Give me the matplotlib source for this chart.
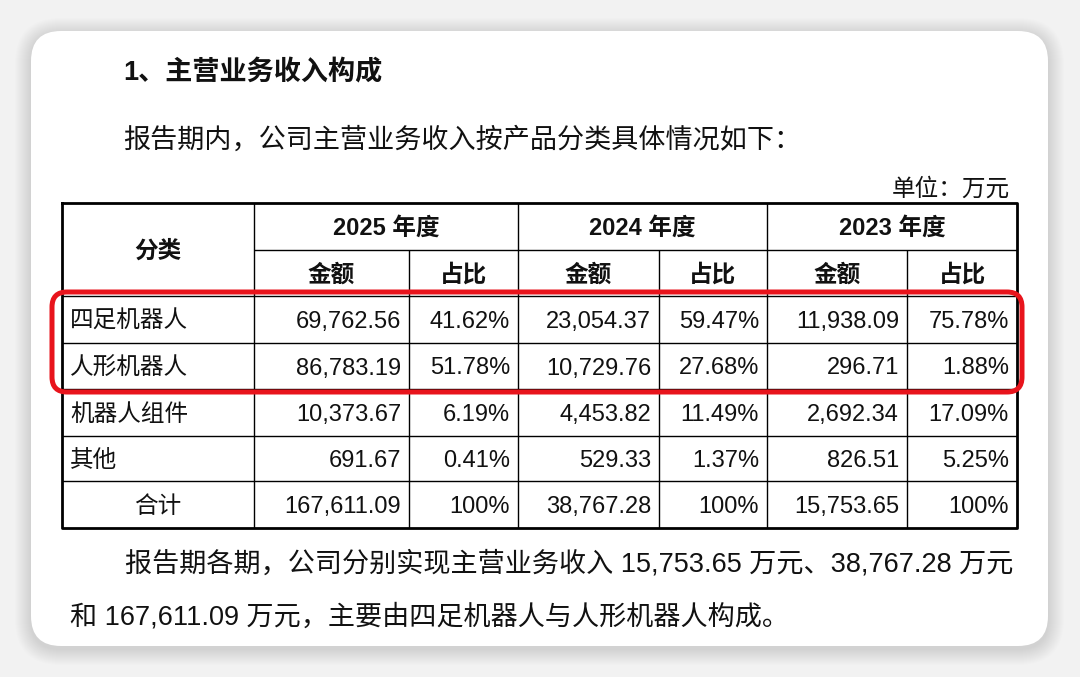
import numpy as np
import matplotlib.pyplot as plt
from matplotlib.patches import FancyBboxPatch

plt.rcParams['font.family'] = ['Liberation Sans', 'Noto Sans CJK SC', 'DejaVu Sans']

# ---- data ----
years = ['2025 年度', '2024 年度', '2023 年度']
sub_headers = ['金额', '占比']
categories = ['四足机器人', '人形机器人', '机器人组件', '其他', '合计']
amount_2025 = [69762.56, 86783.19, 10373.67, 691.67, 167611.09]
share_2025 = [41.62, 51.78, 6.19, 0.41, 100]
amount_2024 = [23054.37, 10729.76, 4453.82, 529.33, 38767.28]
share_2024 = [59.47, 27.68, 11.49, 1.37, 100]
amount_2023 = [11938.09, 296.71, 2692.34, 826.51, 15753.65]
share_2023 = [75.78, 1.88, 17.09, 5.25, 100]
highlight_rows = [0, 1]   # rows in the red box

title = '1、主营业务收入构成'
intro = '报告期内，公司主营业务收入按产品分类具体情况如下：'
unit = '单位：万元'


def fmt_amt(v):
    return f'{v:,.2f}'


def fmt_share(v):
    return '100%' if v == 100 else f'{v:.2f}%'


summary_1 = ('报告期各期，公司分别实现主营业务收入 ' + fmt_amt(amount_2023[-1]) + ' 万元、'
             + fmt_amt(amount_2024[-1]) + ' 万元')
summary_2 = '和 ' + fmt_amt(amount_2025[-1]) + ' 万元，主要由四足机器人与人形机器人构成。'

# ---- layout (pixels) ----
col_x = [62, 254, 409, 518, 659, 767, 907, 1017]
row_y = [203, 250, 296, 343, 389, 436, 481, 528]
pad = 8
fs_table = 17
fs_body = 19.5
ink = '#111111'

fig = plt.figure(figsize=(10.8, 6.77), dpi=100)
fig.patch.set_facecolor('#f2f2f2')
ax = fig.add_axes([0, 0, 1, 1])
ax.set_xlim(0, 1080)
ax.set_ylim(677, 0)
ax.axis('off')

# card with soft shadow
cx0, cy0, cx1, cy1 = 31, 31, 1048, 646
for i in range(16, 0, -1):
    ax.add_patch(FancyBboxPatch((cx0 - i, cy0 - i + 3), cx1 - cx0 + 2 * i, cy1 - cy0 + 2 * i,
                                boxstyle=f'round,pad=0,rounding_size={30 + i}',
                                fc='black', ec='none', alpha=0.007, zorder=1))
ax.add_patch(FancyBboxPatch((cx0, cy0), cx1 - cx0, cy1 - cy0,
                            boxstyle='round,pad=0,rounding_size=30',
                            fc='white', ec='none', zorder=2))


def put(x, yc, s, size, **kw):
    # baseline sits ~0.36 em below the visual centre of a line
    off = 0.36 * size * 100 / 72
    ax.text(x, yc + off, s, fontsize=size, color=ink, va='baseline', zorder=5, **kw)


# texts above table
put(123, 71, title, fs_body, fontweight='bold')
put(123, 138, intro, fs_body)
put(1010, 187, unit, fs_table, ha='right')

# table grid
inner = dict(color='black', lw=1.0, zorder=4, solid_capstyle='butt')
outer = dict(color='black', lw=2.0, zorder=4, solid_capstyle='projecting')
left, right, top, bottom = col_x[0], col_x[-1], row_y[0], row_y[-1]
ax.plot([col_x[1], right], [row_y[1]] * 2, **inner)
for y in row_y[2:-1]:
    ax.plot([left, right], [y, y], **inner)
ax.plot([col_x[1], col_x[1]], [top, bottom], **inner)
for j, x in enumerate(col_x[2:-1]):
    y_start = row_y[1] if j % 2 == 0 else top
    ax.plot([x, x], [y_start, bottom], **inner)
ax.plot([left, right, right, left, left], [top, top, bottom, bottom, top], **outer)

# header
put((col_x[0] + col_x[1]) / 2, (row_y[0] + row_y[2]) / 2, '分类', fs_table,
    fontweight='bold', ha='center')
for k, yr in enumerate(years):
    xa, xb = col_x[1 + 2 * k], col_x[3 + 2 * k]
    put((xa + xb) / 2, (row_y[0] + row_y[1]) / 2, yr, fs_table, fontweight='bold', ha='center')
    for m, sh in enumerate(sub_headers):
        put((col_x[1 + 2 * k + m] + col_x[2 + 2 * k + m]) / 2, (row_y[1] + row_y[2]) / 2, sh,
            fs_table, fontweight='bold', ha='center')

# body
columns = [amount_2025, share_2025, amount_2024, share_2024, amount_2023, share_2023]
for r, cat in enumerate(categories):
    yc = (row_y[2 + r] + row_y[3 + r]) / 2
    if cat == '合计':
        put((col_x[0] + col_x[1]) / 2, yc, cat, fs_table, ha='center')
    else:
        put(col_x[0] + pad, yc, cat, fs_table, ha='left')
    for c, vals in enumerate(columns):
        s = fmt_amt(vals[r]) if c % 2 == 0 else fmt_share(vals[r])
        put(col_x[2 + c] - pad, yc, s, fs_table, ha='right')

# red highlight box
hy0 = row_y[2 + highlight_rows[0]] - 4
hy1 = row_y[3 + highlight_rows[-1]] + 3
ax.add_patch(FancyBboxPatch((52, hy0), 1022 - 52, hy1 - hy0,
                            boxstyle='round,pad=0,rounding_size=15',
                            fc='none', ec='#e8141c', lw=3.6, zorder=6))

# summary below
put(125, 562, summary_1, fs_body)
put(70, 615, summary_2, fs_body)

fig.savefig('out.png', dpi=100, facecolor=fig.get_facecolor())
